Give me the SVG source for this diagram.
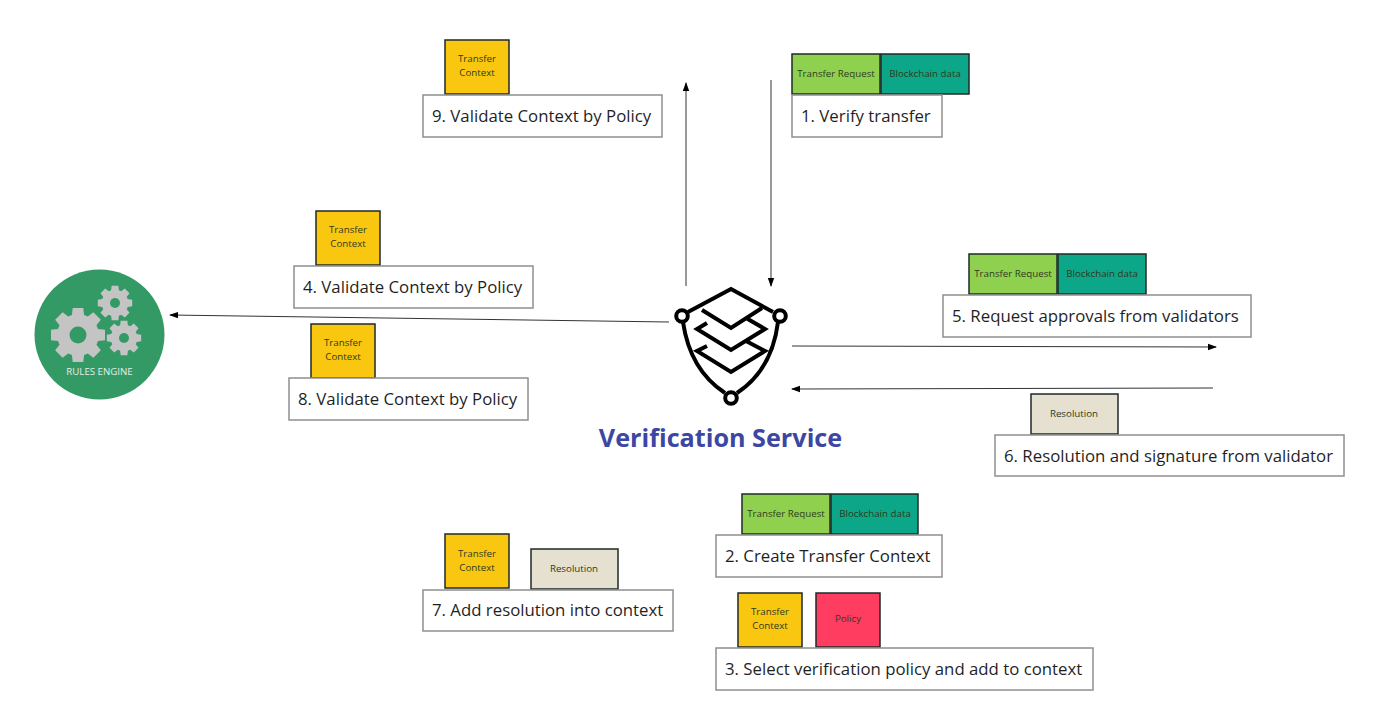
<svg xmlns="http://www.w3.org/2000/svg" width="1393" height="718" viewBox="0 0 1393 718">
<style>
text{font-family:"Open Sans","Noto Sans",sans-serif}
.b{fill:#fff;stroke:#8f8f8f;stroke-width:1.500}
.bt{font-size:16.800px;fill:#1f1f1f}
.c{stroke:#1f2a28;stroke-width:1.500}
.ct{font-size:9.750px;fill:#2f3a20;text-anchor:middle}
.y{fill:#fac710}.g{fill:#8fd14f}.t{fill:#0ca789}.r{fill:#e6e0d0}.p{fill:#ff3d60}
.l{stroke:#333;stroke-width:1;fill:none;marker-end:url(#a)}
.i{fill:none;stroke:#000;stroke-width:4;stroke-linejoin:miter}
</style>
<defs><marker id="a" markerWidth="9" markerHeight="8" refX="8" refY="4" orient="auto" markerUnits="userSpaceOnUse"><path d="M0 0.8L9 4L0 7.2z" fill="#000"/></marker>
<path id="gear" fill="#c4c4c4" d="M.727-.222L.982-.191L.982.191L.727.222L.671.357L.829.559L.559.829L.357.671L.222.727L.191.982L-.191.982L-.222.727L-.357.671L-.559.829L-.829.559L-.671.357L-.727.222L-.982.191L-.982-.191L-.727-.222L-.671-.357L-.829-.559L-.559-.829L-.357-.671L-.222-.727L-.191-.982L.191-.982L.222-.727L.357-.671L.559-.829L.829-.559L.671-.357z"/></defs>
<rect width="1393" height="718" fill="#fff"/>
<g id="connectors">
<path class="l" d="M686 286V83"/>
<path class="l" d="M771 80V286"/>
<path class="l" d="M669 322L170 315"/>
<path class="l" d="M792 346L1216 347"/>
<path class="l" d="M1213 388L792 389"/>
</g>
<g id="rules-engine">
<circle cx="99.500" cy="334.500" r="65" fill="#349a65"/>
<use href="#gear" transform="translate(78 335) scale(27.500)"/>
<use href="#gear" transform="translate(115 303) scale(17.500)"/>
<use href="#gear" transform="translate(124 338) scale(17.500)"/>
<circle cx="78" cy="335" r="8.500" fill="#349a65"/><circle cx="115" cy="303" r="5" fill="#349a65"/><circle cx="124" cy="338" r="5" fill="#349a65"/>
<text x="99.500" y="375" font-size="9.700" fill="#e4efe8" text-anchor="middle">RULES ENGINE</text>
</g>
<g id="verification-service">
<path class="i" d="M688 312L731 289L773 312M702 310L731 328L762 308M707 323L697 329L731 350L765 329L746 318M707 346L697 351L731 372L765 351L746 341M683 322Q690 370 725 393M778 322Q772 370 737 393"/>
<circle class="i" cx="682" cy="316" r="5.800" fill="#fff"/><circle class="i" cx="780" cy="316" r="5.800" fill="#fff"/><circle class="i" cx="731" cy="398" r="5.800" fill="#fff"/>
<text x="720.500" y="447" font-size="25.200" font-weight="700" fill="#3c47a3" text-anchor="middle">Verification Service</text>
</g>
<g id="step-9"><rect class="c y" x="445" y="40" width="64" height="54"/><text class="ct" x="477" y="62">Transfer</text><text class="ct" x="477" y="76">Context</text><rect class="b" x="423" y="95" width="239" height="42"/><text class="bt" x="432" y="122">9. Validate Context by Policy</text></g>
<g id="step-1"><rect class="c g" x="792" y="54" width="88" height="40"/><text class="ct" x="836" y="76.500">Transfer Request</text><rect class="c t" x="881" y="54" width="88" height="40"/><text class="ct" x="925" y="76.500">Blockchain data</text><rect class="b" x="792" y="95" width="150" height="42"/><text class="bt" x="801" y="122">1. Verify transfer</text></g>
<g id="step-4"><rect class="c y" x="316" y="211" width="64" height="54"/><text class="ct" x="348" y="233">Transfer</text><text class="ct" x="348" y="247">Context</text><rect class="b" x="294" y="266" width="239" height="42"/><text class="bt" x="303" y="293">4. Validate Context by Policy</text></g>
<g id="step-8"><rect class="c y" x="311" y="324" width="64" height="54"/><text class="ct" x="343" y="346">Transfer</text><text class="ct" x="343" y="360">Context</text><rect class="b" x="289" y="378" width="239" height="42"/><text class="bt" x="298" y="405">8. Validate Context by Policy</text></g>
<g id="step-5"><rect class="c g" x="969" y="254" width="88" height="40"/><text class="ct" x="1013" y="276.500">Transfer Request</text><rect class="c t" x="1058" y="254" width="88" height="40"/><text class="ct" x="1102" y="276.500">Blockchain data</text><rect class="b" x="943" y="295" width="308" height="42"/><text class="bt" x="952" y="322">5. Request approvals from validators</text></g>
<g id="step-6"><rect class="c r" x="1031" y="394" width="87" height="40"/><text class="ct" x="1074" y="416.500">Resolution</text><rect class="b" x="995" y="435" width="349" height="41"/><text class="bt" x="1004" y="462">6. Resolution and signature from validator</text></g>
<g id="step-2"><rect class="c g" x="742" y="494" width="88" height="40"/><text class="ct" x="786" y="516.500">Transfer Request</text><rect class="c t" x="831" y="494" width="87" height="40"/><text class="ct" x="875" y="516.500">Blockchain data</text><rect class="b" x="716" y="535" width="226" height="42"/><text class="bt" x="725" y="561.500">2. Create Transfer Context</text></g>
<g id="step-7"><rect class="c y" x="445" y="534" width="64" height="54"/><text class="ct" x="477" y="557">Transfer</text><text class="ct" x="477" y="571">Context</text><rect class="c r" x="531" y="549" width="87" height="40"/><text class="ct" x="574" y="571.500">Resolution</text><rect class="b" x="423" y="590" width="250" height="41"/><text class="bt" x="432" y="616">7. Add resolution into context</text></g>
<g id="step-3"><rect class="c y" x="738" y="593" width="64" height="54"/><text class="ct" x="770" y="615">Transfer</text><text class="ct" x="770" y="629">Context</text><rect class="c p" x="816" y="593" width="64" height="54"/><text class="ct" x="848" y="622">Policy</text><rect class="b" x="716" y="648" width="377" height="42"/><text class="bt" x="725" y="675">3. Select verification policy and add to context</text></g>
</svg>
